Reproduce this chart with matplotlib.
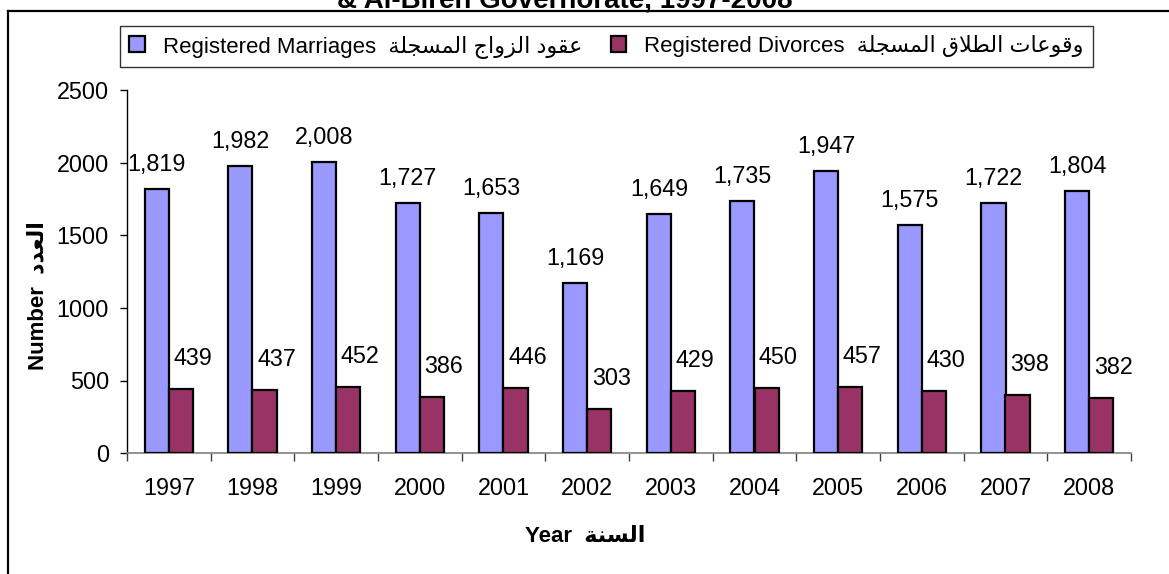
import matplotlib
matplotlib.use("Agg")
import matplotlib.pyplot as plt
from matplotlib.lines import Line2D
import numpy as np

years = ["1997", "1998", "1999", "2000", "2001", "2002", "2003", "2004", "2005", "2006", "2007", "2008"]
marriages = [1819, 1982, 2008, 1727, 1653, 1169, 1649, 1735, 1947, 1575, 1722, 1804]
divorces = [439, 437, 452, 386, 446, 303, 429, 450, 457, 430, 398, 382]
y_ticks = [0, 500, 1000, 1500, 2000, 2500]

# Arabic text in presentation forms (logical order), reversed for visual display
ar_marriages = "\uFECB\uFED8\uFEEE\uFEA9 \uFE8D\uFEDF\uFEB0\uFEED\uFE8D\uFE9D \uFE8D\uFEDF\uFEE4\uFEB4\uFEA0\uFEE0\uFE94"[::-1]
ar_divorces = "\uFEED\uFED7\uFEEE\uFECB\uFE8E\uFE95 \uFE8D\uFEDF\uFEC4\uFEFC\uFED5 \uFE8D\uFEDF\uFEE4\uFEB4\uFEA0\uFEE0\uFE94"[::-1]
ar_number = "\uFE8D\uFEDF\uFECC\uFEAA\uFEA9"[::-1]
ar_year = "\uFE8D\uFEDF\uFEB4\uFEE8\uFE94"[::-1]

label_marriages = "Registered Marriages  " + ar_marriages
label_divorces = "Registered Divorces  " + ar_divorces
title = "& Al-Bireh Governorate, 1997-2008"

FAM = ["Liberation Sans", "DejaVu Sans"]
plt.rcParams["font.family"] = FAM

W, H = 1169, 574
fig = plt.figure(figsize=(W / 100, H / 100), dpi=100)
ax = fig.add_axes([127 / W, 1 - 453 / H, (1131 - 127) / W, (453 - 90.5) / H])

x = np.arange(len(years))
bw = 0.287
c_m = "#9999FF"
c_d = "#993366"
b1 = ax.bar(x - bw / 2, marriages, bw, color=c_m, edgecolor="black", linewidth=1.6,
            label=label_marriages, zorder=3)
b2 = ax.bar(x + bw / 2, divorces, bw, color=c_d, edgecolor="black", linewidth=1.6,
            label=label_divorces, zorder=3)

FS = 16.8
for xi, v in zip(x, marriages):
    ax.annotate(f"{v:,}", xy=(xi - bw / 2, v), xytext=(0, 13), textcoords="offset points",
                ha="center", va="baseline", fontsize=FS)
for xi, v in zip(x, divorces):
    ax.annotate(f"{v}", xy=(xi + bw / 2, v), xytext=(8.6, 17.3), textcoords="offset points",
                ha="center", va="baseline", fontsize=FS)

ax.set_xlim(-0.5, len(years) - 0.5)
ax.set_ylim(0, 2500)
ax.set_yticks(y_ticks)
ax.set_yticklabels([str(t) for t in y_ticks], fontsize=FS)
ax.tick_params(axis="y", direction="out", length=5, width=1, pad=8, colors="black")

ax.set_xticks(np.arange(len(years) + 1) - 0.5)
ax.set_xticklabels([])
ax.tick_params(axis="x", which="major", direction="out", length=5.5, width=1, color="#404040")
ax.set_xticks(x, minor=True)
ax.set_xticklabels(years, minor=True, fontsize=FS)
ax.tick_params(axis="x", which="minor", length=0, pad=17)

for s in ["top", "right"]:
    ax.spines[s].set_visible(False)
ax.spines["left"].set_color("black")
ax.spines["left"].set_linewidth(1)
ax.spines["bottom"].set_color("#808080")
ax.spines["bottom"].set_linewidth(1.2)

fig.text(38 / W, 1 - 296 / H, "Number  " + ar_number, rotation=90, ha="center", va="center",
         fontsize=16, fontweight="bold")
fig.text(585 / W, 1 - 537 / H, "Year  " + ar_year, ha="center", va="center",
         fontsize=16, fontweight="bold")

fig.text(565 / W, 1 - 7 / H, title, ha="center", va="baseline", fontsize=20, fontweight="bold")

leg = fig.legend(handles=[b1, b2], loc="center", bbox_to_anchor=(606.5 / W, 1 - 46.5 / H),
                 ncol=2, fontsize=16, frameon=True, fancybox=False, handlelength=0.7,
                 handleheight=0.7, handletextpad=0.8, columnspacing=1.3, borderpad=0.4)
leg.get_frame().set_edgecolor("black")
leg.get_frame().set_linewidth(1)

# outer frame (top and left edges visible)
fig.add_artist(Line2D([8 / W, 1.0], [1 - 11 / H, 1 - 11 / H], transform=fig.transFigure,
                      color="black", linewidth=1.6))
fig.add_artist(Line2D([8 / W, 8 / W], [1 - 11 / H, 0.0], transform=fig.transFigure,
                      color="black", linewidth=1.6))

fig.savefig("out.png", dpi=100)
